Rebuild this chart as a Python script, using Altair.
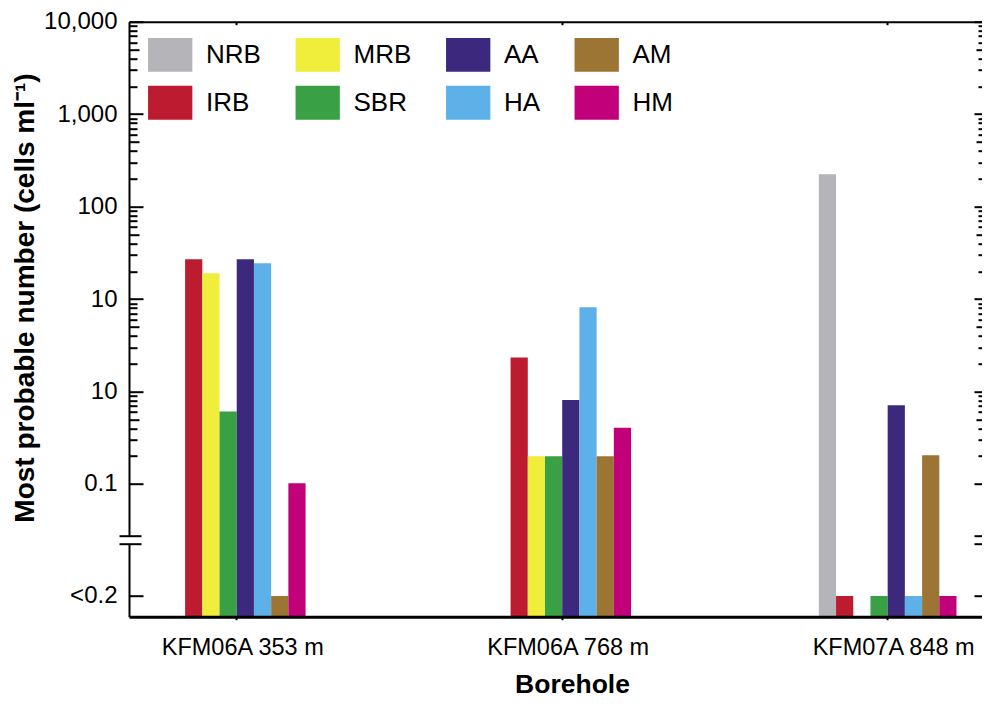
import altair as alt
import pandas as pd

# ---------------- data ----------------
BOREHOLES = ["KFM06A 353 m", "KFM06A 768 m", "KFM07A 848 m"]
GROUPS = ["NRB", "IRB", "MRB", "SBR", "AA", "HA", "AM", "HM"]
COLORS = ["#B5B4B9", "#BD1B2F", "#F1EE3B", "#39A046", "#3C287D", "#5DB1E8", "#9C7433", "#C1007A"]

BELOW = 0.00615   # axis position of the "<0.2" category
# MPN values per group (None = no bar)
KFM06A_353 = [None, 27, 19, 0.61, 27, 24.4, BELOW, 0.102]
KFM06A_768 = [None, 2.34, 0.2, 0.2, 0.81, 8.15, 0.2, 0.406]
KFM07A_848 = [224, BELOW, None, BELOW, 0.71, BELOW, 0.204, BELOW]

MAJOR_VALUES = [10000, 1000, 100, 10, 1, 0.1, BELOW]
MAJOR_LABELS = ["10,000", "1,000", "100", "10", "10", "0.1", "<0.2"]
MID_VALUES = [5000, 500, 50, 5, 0.5]
MINOR_VALUES = [m * 10.0 ** k for k in range(-1, 4) for m in (2, 3, 4, 6, 7, 8, 9)]
BREAK_VALUES = [0.0276, 0.02245]
Y_MIN, Y_MAX = 0.00367, 10000

rows = []
for bh, vals in zip(BOREHOLES, [KFM06A_353, KFM06A_768, KFM07A_848]):
    for g, v in zip(GROUPS, vals):
        if v is not None:
            rows.append({"borehole": bh, "group": g, "value": v})
df = pd.DataFrame(rows)
brk_df = pd.DataFrame({"v": BREAK_VALUES})
gap_df = pd.DataFrame({"hi": [BREAK_VALUES[0]], "lo": [BREAK_VALUES[1]]})
bh_df = pd.DataFrame({"borehole": BOREHOLES})

FONT = "Liberation Sans"

label_expr = ""
for v, l in zip(MAJOR_VALUES, MAJOR_LABELS):
    label_expr += f"abs(datum.value - {v}) < {v * 1e-3} ? '{l}' : "
label_expr += "''"

yscale = alt.Scale(type="log", domain=[Y_MIN, Y_MAX], nice=False)
xscale = alt.Scale(domain=BOREHOLES, range=[0, 866.4], paddingInner=0.577, paddingOuter=0.1195)

bars = alt.Chart(df).mark_bar().encode(
    x=alt.X("borehole:N", sort=BOREHOLES, scale=xscale,
            axis=alt.Axis(title="Borehole", labelAngle=0, labelFontSize=23.5,
                          labelPadding=28, labelBaseline="middle", labelOffset=6,
                          tickSize=3, tickWidth=2, domainWidth=3, zindex=1,
                          titleFontSize=26.5, titleFontWeight="bold",
                          titleX=443, titleAlign="center",
                          titleY=76, titleBaseline="alphabetic", grid=False)),
    xOffset=alt.XOffset("group:N", sort=GROUPS,
                        scale=alt.Scale(domain=GROUPS, paddingInner=0, paddingOuter=0)),
    y=alt.Y("value:Q", scale=yscale,
            axis=alt.Axis(orient="left", values=MAJOR_VALUES, labelExpr=label_expr,
                          tickSize=14, offset=-14, domain=False, tickWidth=2, zindex=1,
                          labelFontSize=24, labelPadding=12, grid=False,
                          title="Most probable number (cells ml⁻¹)",
                          titleFontSize=28, titleFontWeight="bold",
                          titleX=-110, titleY=275.8, titleAlign="center",
                          titleBaseline="alphabetic", titleAngle=270)),
    y2=alt.datum(Y_MIN),
    color=alt.Color("group:N",
                    scale=alt.Scale(domain=GROUPS, range=COLORS),
                    legend=alt.Legend(title=None, orient="none", legendX=24.2, legendY=16.2,
                                      columns=4, symbolType="M-1.307,-1H1.307V1H-1.307Z",
                                      symbolSize=1149, symbolStrokeWidth=0, symbolOpacity=1,
                                      labelFontSize=26, labelFont=FONT, labelColor="black",
                                      labelOffset=18.8, columnPadding=33.5, rowPadding=13.8,
                                      padding=0)),
)

gap = alt.Chart(gap_df).mark_rect(color="white").encode(
    y=alt.Y("hi:Q", scale=yscale, axis=None),
    y2="lo:Q",
    x=alt.value(-3), x2=alt.value(3),
)


def y_axis_layer(values, size, orient, offset, domain=False, zindex=1):
    return alt.Chart(brk_df).mark_rule(opacity=0).encode(
        y=alt.Y("v:Q", scale=yscale,
                axis=alt.Axis(orient=orient, values=values, tickSize=max(size, 0.01),
                              ticks=size > 0, offset=offset,
                              domain=domain, domainWidth=2, domainColor="black",
                              labels=False, title=None, grid=False, zindex=zindex,
                              tickWidth=2, tickColor="black"))
    )


def x_axis_layer(size, offset, domain):
    return alt.Chart(bh_df).mark_rule(opacity=0).encode(
        x=alt.X("borehole:N", sort=BOREHOLES, scale=xscale,
                axis=alt.Axis(orient="top", tickSize=max(size, 0.01), ticks=size > 0,
                              offset=offset, domain=domain, domainWidth=2,
                              domainColor="black", labels=False, title=None,
                              grid=False, tickWidth=2, tickColor="black", zindex=1))
    )


layers = [
    bars,
    y_axis_layer([BREAK_VALUES[0]], 0, "left", 0, domain=True, zindex=0),   # left frame line
    gap,
    y_axis_layer(BREAK_VALUES, 22, "left", -12),                            # axis break marks
    y_axis_layer(MID_VALUES, 10, "left", -10),
    y_axis_layer(MINOR_VALUES, 8, "left", -8),
    y_axis_layer(MAJOR_VALUES + BREAK_VALUES, 8, "right", -8),
    y_axis_layer(MID_VALUES, 6, "right", -6),
    y_axis_layer(MINOR_VALUES, 4, "right", -4),
    x_axis_layer(0, 0, True),                                               # top frame line
    x_axis_layer(3, -3, False),                                             # top ticks
]

chart = alt.layer(*layers).resolve_scale(y="shared", x="shared").resolve_axis(
    y="independent", x="independent"
).properties(
    width=853, height=595,
    autosize=alt.AutoSizeParams(type="none"),
    padding={"left": 121, "top": 13.7, "right": 0, "bottom": 81.3},
    background="white",
).configure_view(strokeWidth=0).configure_axis(
    labelFont=FONT, titleFont=FONT, labelColor="black", titleColor="black",
    domainColor="black", tickColor="black",
)

chart.save("out.html", embed_options={"renderer": "svg", "actions": False})
